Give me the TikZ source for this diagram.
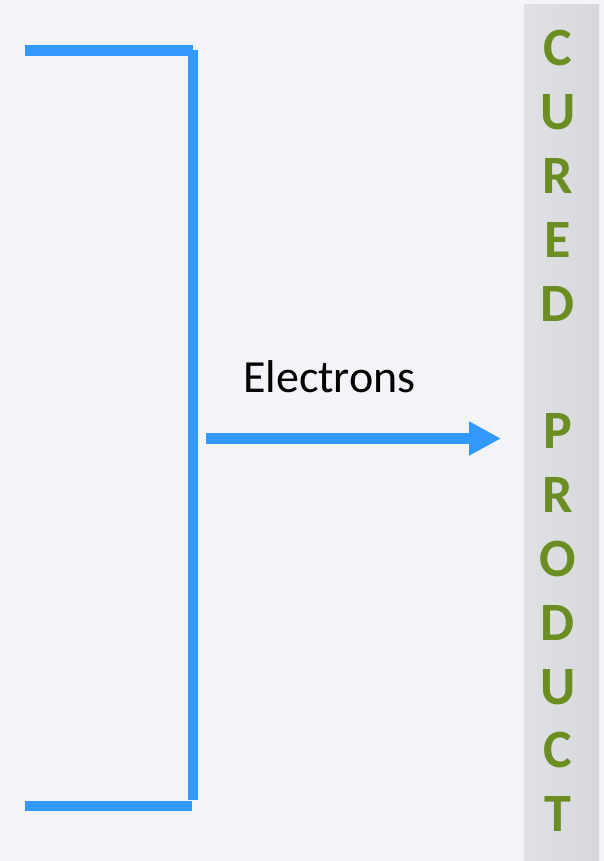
\documentclass[tikz,border=0pt]{standalone}
\usepackage{fontspec}
\setmainfont{Carlito}
\usetikzlibrary{arrows.meta}
\definecolor{bg}{HTML}{F2F4F8}
\definecolor{bluel}{HTML}{3399FF}
\definecolor{bar}{HTML}{DCDEE2}
\definecolor{greenl}{HTML}{6B8E23}
\tikzset{
  bracketline/.style={draw=bluel,line width=10.7pt,line cap=butt},
  letter/.style={font=\fontsize{54}{64}\selectfont\bfseries,text=greenl,anchor=base,inner sep=0pt},
}
\begin{document}
\begin{tikzpicture}[x=1pt,y=-1pt]
\useasboundingbox (0,0) rectangle (604,861);
\fill[bg] (0,0) rectangle (604,861);
\shade[left color=bar!90!white,right color=bar!97!black] (524,5) rectangle (599,861);
% bracket
\coordinate (t1) at (25,50.5);
\coordinate (t2) at (193,50.5);
\coordinate (v1) at (193,50);
\coordinate (v2) at (193,800);
\coordinate (b1) at (25,806);
\coordinate (b2) at (192,806);
\draw[bracketline] (t1) -- (t2);
\draw[bracketline] (v1) -- (v2);
\draw[bracketline] (b1) -- (b2);
% arrow
\coordinate (a1) at (206,438.5);
\coordinate (a2) at (501,438.5);
\draw[draw=bluel,line width=11pt,-{Triangle[length=32pt,width=32pt]}] (a1) -- (a2);
\node[font=\fontsize{46}{56}\selectfont,anchor=base west,inner sep=0pt] (el) at (243,392) {Electrons};
% letters
\foreach \l/\i in {C/0,U/1,R/2,E/3,D/4,P/6,R/7,O/8,D/9,U/10,C/11,T/12}{
  \node[letter] (L\i) at (558,66+63.8*\i) {\l};
}
\end{tikzpicture}
\end{document}
